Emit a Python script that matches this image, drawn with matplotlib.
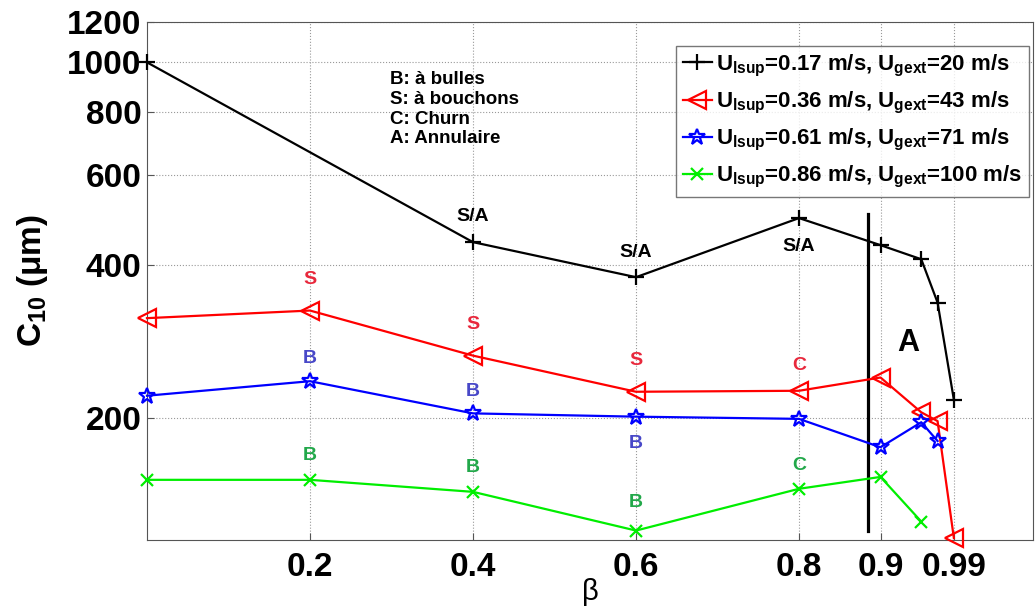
import matplotlib
matplotlib.use("Agg")
import matplotlib.pyplot as plt

plt.rcParams['font.family'] = ['Liberation Sans', 'DejaVu Sans']
plt.rcParams['font.weight'] = 'bold'
plt.rcParams['mathtext.fontset'] = 'custom'
plt.rcParams['mathtext.rm'] = 'Liberation Sans:bold'
plt.rcParams['mathtext.it'] = 'Liberation Sans:bold'
plt.rcParams['mathtext.bf'] = 'Liberation Sans:bold'

# Données (C10 en µm en fonction de beta)
beta_017 = [0, 0.4, 0.6, 0.8, 0.9, 0.95, 0.97, 0.99]
c10_017 = [1000, 443, 378, 494, 437, 410, 337, 217]
beta_036 = [0, 0.2, 0.4, 0.6, 0.8, 0.9, 0.95, 0.97, 0.99]
c10_036 = [314, 325, 265, 225, 226, 240, 205, 197, 116]
beta_061 = [0, 0.2, 0.4, 0.6, 0.8, 0.9, 0.95, 0.97]
c10_061 = [221, 236, 204, 201, 199, 175, 196, 180]
beta_086 = [0, 0.2, 0.4, 0.6, 0.8, 0.9, 0.95]
c10_086 = [151, 151, 143, 120, 145, 153, 125]

labels = [r'$U_{lsup}$=0.17 m/s, $U_{gext}$=20 m/s',
          r'$U_{lsup}$=0.36 m/s, $U_{gext}$=43 m/s',
          r'$U_{lsup}$=0.61 m/s, $U_{gext}$=71 m/s',
          r'$U_{lsup}$=0.86 m/s, $U_{gext}$=100 m/s']

# Régimes d'écoulement (beta, régime)
regime_017 = [(0.4, 'S/A'), (0.6, 'S/A'), (0.8, 'S/A')]
regime_036 = [(0.2, 'S'), (0.4, 'S'), (0.6, 'S'), (0.8, 'C')]
regime_061 = [(0.2, 'B'), (0.4, 'B'), (0.6, 'B')]
regime_086 = [(0.2, 'B'), (0.4, 'B'), (0.6, 'B'), (0.8, 'C')]

# Limite du régime annulaire
boundary_beta = 0.885
boundary_c10 = [120, 503]

xticks = [0.2, 0.4, 0.6, 0.8, 0.9, 0.99]
yticks = [200, 400, 600, 800, 1000, 1200]

fig = plt.figure(figsize=(10.35, 6.1), dpi=100)
ax = fig.add_axes([0.142, 0.1148, 0.856, 0.849])
ax.set_yscale('log')

series = [
    (beta_017, c10_017, regime_017, 'k', '+', 12, 'k', [26, 25, -28]),
    (beta_036, c10_036, regime_036, 'r', '<', 13, '#e8283c', [31, 31, 31, 25]),
    (beta_061, c10_061, regime_061, 'b', '*', 12, '#4848c8', [23, 22, -27]),
    (beta_086, c10_086, regime_086, '#00ee00', 'x', 9, '#22a84a', [24, 24, 28, 23]),
]
for (bx, cy, reg, col, mk, ms, tcol, offs), lab in zip(series, labels):
    ax.plot(bx, cy, color=col, marker=mk, markersize=ms, markerfacecolor='none',
            markeredgecolor=col, markeredgewidth=1.6, linewidth=1.6, label=lab,
            clip_on=False, zorder=3)
    for (b, txt), off in zip(reg, offs):
        c = cy[bx.index(b)]
        ax.annotate(txt, (b, c), xytext=(0, off), textcoords='offset pixels',
                    ha='center', va='center', fontsize=14, fontweight='bold', color=tcol)

ax.plot([boundary_beta, boundary_beta], boundary_c10, color='k', linewidth=2.3, zorder=2)
ax.text(0.934, 281, 'A', fontsize=22, fontweight='bold', ha='center', va='center')

ax.text(0.298, 960, 'B: à bulles\nS: à bouchons\nC: Churn\nA: Annulaire',
        fontsize=13.5, fontweight='bold', ha='left', va='top', linespacing=1.2)

ax.set_xlim(0, 1.087)
ax.set_ylim(115, 1200)
ax.set_xticks(xticks)
ax.set_xticklabels([str(t) for t in xticks])
ax.set_yticks(yticks)
ax.set_yticklabels([str(t) for t in yticks])
ax.yaxis.set_minor_locator(matplotlib.ticker.NullLocator())
ax.tick_params(axis='both', direction='in', length=5, labelsize=24, color='#555555')
ax.tick_params(axis='x', pad=9)
ax.tick_params(axis='y', pad=4)
for lab in ax.get_xticklabels() + ax.get_yticklabels():
    lab.set_fontweight('bold')
for s in ax.spines.values():
    s.set_color('#555555')
ax.grid(True, linestyle=':', color='#999999', linewidth=0.8)

ax.set_xlabel('β', fontsize=21, fontweight='normal', labelpad=-4)
ax.set_ylabel(r'$C_{10}$ (μm)', fontsize=24, fontweight='bold', labelpad=12)

leg = ax.legend(loc='upper right', bbox_to_anchor=(0.9955, 0.954), borderaxespad=0,
                fontsize=16, frameon=True, fancybox=False, handlelength=1.3,
                handletextpad=0.2, labelspacing=0.5, borderpad=0.3)
leg.get_frame().set_edgecolor('#555555')
leg.get_frame().set_linewidth(1.0)
for t in leg.get_texts():
    t.set_fontweight('bold')

fig.savefig('out.png', dpi=100)
